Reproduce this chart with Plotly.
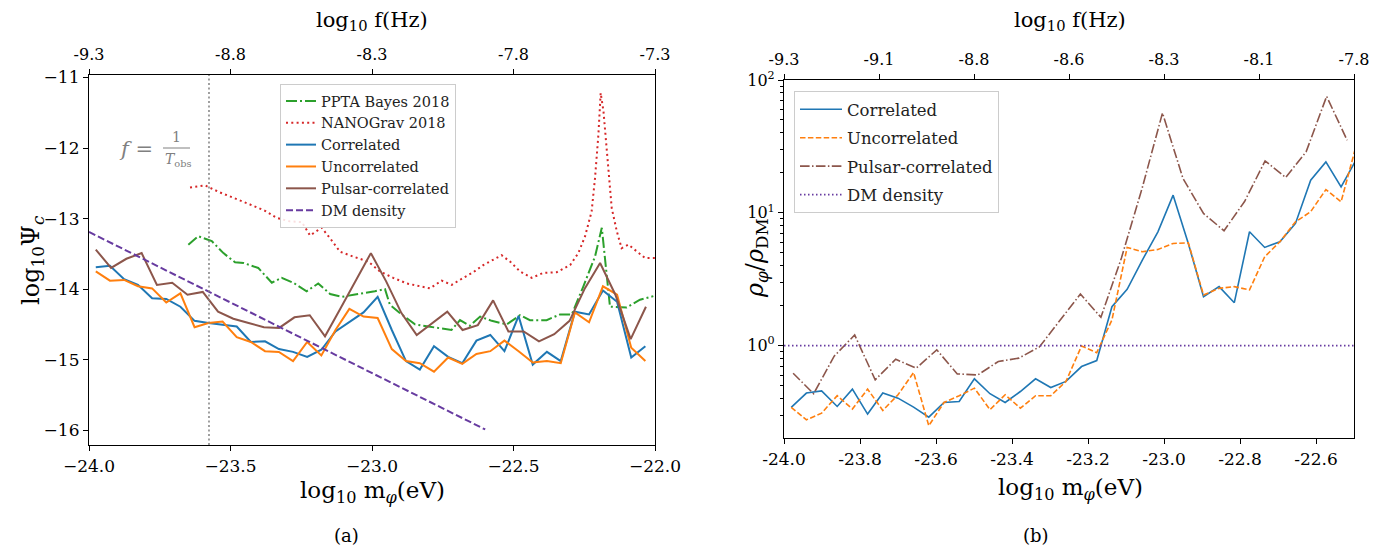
import plotly.graph_objects as go

# ---------------- data: panel (a) ----------------
m_corr = [-23.976, -23.926, -23.876, -23.827, -23.777, -23.727, -23.677, -23.627, -23.578, -23.528,
          -23.478, -23.428, -23.378, -23.329, -23.279, -23.229, -23.179, -23.129, -23.080, -23.030,
          -22.980, -22.930, -22.880, -22.831, -22.781, -22.731, -22.681, -22.631, -22.582, -22.532,
          -22.482, -22.432, -22.382, -22.333, -22.283, -22.233, -22.184, -22.134, -22.084, -22.034]
psi_corr = [-13.69, -13.67, -13.86, -13.94, -14.13, -14.14, -14.25, -14.45, -14.48, -14.51,
            -14.53, -14.75, -14.74, -14.85, -14.89, -14.96, -14.86, -14.60, -14.47, -14.33,
            -14.11, -14.58, -15.02, -15.14, -14.81, -14.96, -15.05, -14.73, -14.65, -14.88,
            -14.38, -15.07, -14.89, -15.02, -14.32, -14.36, -14.02, -14.18, -14.97, -14.81]
psi_uncorr = [-13.75, -13.88, -13.87, -13.96, -13.99, -14.19, -14.06, -14.54, -14.48, -14.46,
              -14.68, -14.75, -14.88, -14.89, -15.02, -14.75, -14.94, -14.58, -14.28, -14.39,
              -14.41, -14.85, -15.02, -15.05, -15.17, -14.97, -15.06, -14.92, -14.88, -14.73,
              -14.88, -15.04, -15.02, -15.05, -14.33, -14.47, -13.96, -14.08, -14.83, -15.02]

m_pulsar = [-23.976, -23.922, -23.868, -23.814, -23.760, -23.706, -23.652, -23.598, -23.544, -23.490,
            -23.436, -23.382, -23.328, -23.274, -23.220, -23.166, -23.112, -23.058, -23.004, -22.950,
            -22.896, -22.842, -22.788, -22.734, -22.680, -22.626, -22.572, -22.518, -22.464, -22.410,
            -22.356, -22.302, -22.248, -22.194, -22.140, -22.086, -22.032]
psi_pulsar = [-13.44, -13.70, -13.57, -13.49, -13.94, -13.91, -14.08, -14.04, -14.32, -14.42,
              -14.48, -14.54, -14.55, -14.40, -14.37, -14.67, -14.28, -13.88, -13.49, -13.89,
              -14.34, -14.65, -14.48, -14.32, -14.58, -14.51, -14.16, -14.60, -14.60, -14.74,
              -14.64, -14.45, -13.99, -13.63, -14.08, -14.71, -14.25]

m_ppta = [-23.649, -23.614, -23.566, -23.525, -23.484, -23.454, -23.402, -23.354, -23.319, -23.278,
          -23.231, -23.190, -23.148, -23.107, -23.065, -23.031, -22.990, -22.954, -22.937, -22.895,
          -22.848, -22.801, -22.754, -22.719, -22.689, -22.654, -22.618, -22.577, -22.524, -22.477,
          -22.442, -22.383, -22.336, -22.294, -22.253, -22.212, -22.188, -22.159, -22.100, -22.053,
          -22.006]
psi_ppta = [-13.37, -13.25, -13.32, -13.49, -13.62, -13.63, -13.70, -13.91, -13.84, -13.91,
            -14.03, -13.92, -14.07, -14.11, -14.08, -14.06, -14.03, -14.00, -14.22, -14.36,
            -14.50, -14.53, -14.56, -14.58, -14.44, -14.52, -14.39, -14.45, -14.50, -14.37,
            -14.44, -14.44, -14.36, -14.36, -13.96, -13.54, -13.13, -14.25, -14.26, -14.15,
            -14.10]

m_nano = [-23.643, -23.590, -23.537, -23.484, -23.431, -23.378, -23.337, -23.290, -23.248, -23.219,
          -23.178, -23.148, -23.113, -23.066, -23.013, -22.972, -22.925, -22.877, -22.830, -22.795,
          -22.754, -22.718, -22.677, -22.642, -22.607, -22.571, -22.542, -22.512, -22.477, -22.436,
          -22.394, -22.347, -22.300, -22.271, -22.247, -22.224, -22.212, -22.200, -22.192, -22.182,
          -22.171, -22.153, -22.135, -22.118, -22.094, -22.065, -22.035, -22.000]
psi_nano = [-12.56, -12.53, -12.63, -12.71, -12.80, -12.89, -12.99, -13.04, -13.05, -13.24,
            -13.13, -13.28, -13.47, -13.54, -13.61, -13.75, -13.84, -13.92, -13.96, -13.99,
            -13.88, -13.94, -13.84, -13.76, -13.66, -13.58, -13.52, -13.61, -13.75, -13.84,
            -13.77, -13.76, -13.66, -13.49, -13.25, -12.90, -12.43, -11.81, -11.22, -11.48,
            -12.05, -12.85, -13.18, -13.42, -13.37, -13.47, -13.56, -13.56]

m_dm = [-24.0, -22.6]
psi_dm = [-13.19, -15.99]

m_Tobs = -23.576

a_xticks = [-24.0, -23.5, -23.0, -22.5, -22.0]
a_xticklabels = ["−24.0", "−23.5", "−23.0", "−22.5", "−22.0"]
a_yticks = [-16, -15, -14, -13, -12, -11]
a_yticklabels = ["−16", "−15", "−14", "−13", "−12", "−11"]
a_fticks = [-9.3, -8.8, -8.3, -7.8, -7.3]
a_fticklabels = ["-9.3", "-8.8", "-8.3", "-7.8", "-7.3"]

# ---------------- data: panel (b) ----------------
m_r = [-23.981, -23.941, -23.901, -23.860, -23.820, -23.780, -23.740, -23.700, -23.659, -23.619,
       -23.579, -23.539, -23.499, -23.458, -23.418, -23.378, -23.338, -23.298, -23.258, -23.217,
       -23.177, -23.137, -23.097, -23.057, -23.016, -22.976, -22.936, -22.896, -22.855, -22.815,
       -22.775, -22.735, -22.695, -22.654, -22.614, -22.574, -22.534, -22.494]
rho_corr = [0.342, 0.439, 0.456, 0.348, 0.470, 0.305, 0.439, 0.402, 0.344, 0.289,
            0.373, 0.379, 0.562, 0.434, 0.373, 0.451, 0.562, 0.483, 0.537, 0.695,
            0.771, 1.963, 2.655, 4.406, 7.194, 13.58, 5.875, 2.333, 2.780, 2.104,
            7.194, 5.483, 6.053, 8.318, 17.62, 24.15, 15.67, 25.18]
rho_uncorr = [0.342, 0.276, 0.310, 0.419, 0.333, 0.470, 0.325, 0.426, 0.627, 0.249,
              0.373, 0.419, 0.478, 0.329, 0.426, 0.338, 0.419, 0.419, 0.537, 0.993,
              0.885, 1.560, 5.483, 5.093, 5.297, 5.875, 5.943, 2.404, 2.698, 2.780,
              2.624, 4.667, 6.053, 8.551, 10.19, 14.96, 12.11, 32.28]
m_r_pulsar = [-23.976, -23.922, -23.868, -23.814, -23.760, -23.706, -23.652, -23.598, -23.544, -23.490,
              -23.436, -23.382, -23.328, -23.274, -23.220, -23.166, -23.112, -23.058, -23.004, -22.950,
              -22.896, -22.842, -22.788, -22.734, -22.680, -22.626, -22.572, -22.518]
rho_pulsar = [0.619, 0.434, 0.832, 1.202, 0.552, 0.789, 0.676, 0.929, 0.612, 0.601,
              0.759, 0.804, 0.977, 1.549, 2.443, 1.633, 4.571, 15.14, 56.49, 18.11,
              9.886, 7.328, 12.16, 24.60, 18.45, 28.77, 75.34, 35.16]
m_r_dm = [-24.0, -22.5]
rho_dm = [1.0, 1.0]

b_xticks = [-24.0, -23.8, -23.6, -23.4, -23.2, -23.0, -22.8, -22.6]
b_xticklabels = ["-24.0", "-23.8", "-23.6", "-23.4", "-23.2", "-23.0", "-22.8", "-22.6"]
b_yticks = [1, 10, 100]
b_yticklabels = ["10<sup>0</sup>", "10<sup>1</sup>", "10<sup>2</sup>"]
b_fticks = [-9.3, -9.05, -8.8, -8.55, -8.3, -8.05, -7.8]
b_fticklabels = ["-9.3", "-9.1", "-8.8", "-8.6", "-8.3", "-8.1", "-7.8"]

# ---------------- figure ----------------
W, H = 1387, 546
OFF = 8  # default page body margin
SERIF = "DejaVu Serif, Liberation Serif, serif"


def fx(p):
    return (p - OFF) / W


def fy(p):
    return 1 - (p - OFF) / H


fig = go.Figure()

C_BLUE, C_ORANGE, C_GREEN = "#1f77b4", "#ff7f0e", "#2ca02c"
C_RED, C_BROWN, C_PURPLE = "#d62728", "#8c564b", "#673ba0"

left = dict(xaxis="x", yaxis="y", legend="legend", mode="lines", hoverinfo="skip")
fig.add_trace(go.Scatter(x=m_ppta, y=psi_ppta, name="PPTA Bayes 2018", legendgroup="a1",
                         line=dict(color=C_GREEN, width=2, dash="11px,3px,2px,3px"), **left))
fig.add_trace(go.Scatter(x=m_nano, y=psi_nano, name="NANOGrav 2018", legendgroup="a2",
                         line=dict(color=C_RED, width=2, dash="2px,3.3px"), **left))
fig.add_trace(go.Scatter(x=m_corr, y=psi_corr, name="Correlated", legendgroup="a3",
                         line=dict(color=C_BLUE, width=2), **left))
fig.add_trace(go.Scatter(x=m_corr, y=psi_uncorr, name="Uncorrelated", legendgroup="a4",
                         line=dict(color=C_ORANGE, width=2), **left))
fig.add_trace(go.Scatter(x=m_pulsar, y=psi_pulsar, name="Pulsar-correlated", legendgroup="a5",
                         line=dict(color=C_BROWN, width=2), **left))
fig.add_trace(go.Scatter(x=m_dm, y=psi_dm, name="DM density", legendgroup="a6",
                         line=dict(color=C_PURPLE, width=2, dash="7px,3px"), **left))

right = dict(xaxis="x2", yaxis="y2", legend="legend2", mode="lines", hoverinfo="skip")
fig.add_trace(go.Scatter(x=m_r, y=rho_corr, name="Correlated", legendgroup="b1",
                         line=dict(color=C_BLUE, width=1.6), **right))
fig.add_trace(go.Scatter(x=m_r, y=rho_uncorr, name="Uncorrelated", legendgroup="b2",
                         line=dict(color=C_ORANGE, width=1.6, dash="5.5px,2.4px"), **right))
fig.add_trace(go.Scatter(x=m_r_pulsar, y=rho_pulsar, name="Pulsar-correlated", legendgroup="b3",
                         line=dict(color=C_BROWN, width=1.6, dash="9.6px,2.4px,1.5px,2.4px"), **right))
fig.add_trace(go.Scatter(x=m_r_dm, y=rho_dm, name="DM density", legendgroup="b4",
                         line=dict(color=C_PURPLE, width=1.6, dash="1.5px,2.5px"), **right))

# invisible traces to activate the top (frequency) axes
fig.add_trace(go.Scatter(x=[a_fticks[0], a_fticks[-1]], y=[None, None], xaxis="x3", yaxis="y",
                         showlegend=False, hoverinfo="skip", mode="lines"))
fig.add_trace(go.Scatter(x=[b_fticks[0], b_fticks[-1]], y=[None, None], xaxis="x4", yaxis="y2",
                         showlegend=False, hoverinfo="skip", mode="lines"))

fig.add_shape(type="line", x0=m_Tobs, x1=m_Tobs, y0=0, y1=1, xref="x", yref="y domain",
              line=dict(color="#808080", width=1.5, dash="2px,2.5px"))

common = dict(showgrid=False, zeroline=False, showline=True, linecolor="black", linewidth=1.2,
              ticks="outside", ticklen=5, tickwidth=1.2, tickcolor="black", automargin=False,
              tickfont=dict(family=SERIF, size=17, color="black"))
top = dict(common)
top["tickfont"] = dict(family=SERIF, size=16, color="black")
top["ticklabelstandoff"] = 3
ylog = dict(common)
ylog["tickfont"] = dict(family=SERIF, size=16, color="black")

fig.update_layout(
    width=W, height=H,
    margin=dict(l=0, r=0, t=0, b=0),
    paper_bgcolor="white", plot_bgcolor="white",
    font=dict(family=SERIF, color="black"),
    xaxis=dict(domain=[fx(89), fx(655)], anchor="y", range=[-24, -22], tickmode="array",
               tickvals=a_xticks, ticktext=a_xticklabels, mirror=True, **common),
    yaxis=dict(domain=[fy(445), fy(75)], anchor="x", range=[-16.21, -10.965], tickmode="array",
               tickvals=a_yticks, ticktext=a_yticklabels, mirror=True, **common),
    xaxis3=dict(overlaying="x", side="top", anchor="y", range=[-9.3, -7.3], tickmode="array",
                tickvals=a_fticks, ticktext=a_fticklabels, **top),
    xaxis2=dict(domain=[fx(784), fx(1354)], anchor="y2", range=[-24, -22.5], tickmode="array",
                tickvals=b_xticks, ticktext=b_xticklabels, mirror=True, **common),
    yaxis2=dict(domain=[fy(438), fy(80)], anchor="x2", type="log", range=[-0.696, 2.0],
                tickmode="array", tickvals=b_yticks, ticktext=b_yticklabels, mirror=True,
                minor=dict(ticks="outside", ticklen=2.5, tickwidth=0.8, tickcolor="black",
                           tickvals=[0.2, 0.3, 0.4, 0.5, 0.6, 0.7, 0.8, 0.9,
                                     2, 3, 4, 5, 6, 7, 8, 9, 20, 30, 40, 50, 60, 70, 80, 90],
                           showgrid=False),
                **ylog),
    xaxis4=dict(overlaying="x2", side="top", anchor="y2", range=[-9.3, -7.8], tickmode="array",
                tickvals=b_fticks, ticktext=b_fticklabels, **top),
    legend=dict(x=fx(280), y=fy(84), xanchor="left", yanchor="top",
                bgcolor="rgba(255,255,255,0.85)", bordercolor="#cccccc", borderwidth=1,
                font=dict(family=SERIF, size=14.5, color="#222"), tracegroupgap=0, itemwidth=30),
    legend2=dict(x=fx(794), y=fy(91), xanchor="left", yanchor="top",
                 bgcolor="rgba(255,255,255,0.85)", bordercolor="#cccccc", borderwidth=1,
                 font=dict(family=SERIF, size=16.5, color="#222"), tracegroupgap=4, itemwidth=42),
)

ann = []


def A(text, x, y, size, angle=0, color="black"):
    ann.append(dict(text=text, x=fx(x), y=fy(y), xref="paper", yref="paper", showarrow=False,
                    xanchor="center", yanchor="middle", textangle=angle,
                    font=dict(family=SERIF, size=size, color=color)))


A("log<sub>10</sub> f(Hz)", 372, 21, 21)
A("log<sub>10</sub> f(Hz)", 1070, 21, 21)
A("log<sub>10</sub> m<sub><i>φ</i></sub>(eV)", 372, 492, 23)
A("log<sub>10</sub> m<sub><i>φ</i></sub>(eV)", 1070, 489, 23)
A("log<sub>10</sub>Ψ<sub><i>c</i></sub>", 32, 260, 24, angle=-90)
A("<i>ρ</i><sub><i>φ</i></sub>/<i>ρ</i><sub>DM</sub>", 757, 258, 24, angle=-90)
A("(a)", 346, 535, 18)
A("(b)", 1036, 535, 18)
A("<i>f</i> =", 136, 149, 21, color="#808080")
A("1", 176, 137, 14, color="#808080")
A("<i>T</i><sub>obs</sub>", 178, 160, 14, color="#808080")
fig.update_layout(annotations=ann)
fig.add_shape(type="line", xref="paper", yref="paper", x0=fx(163), x1=fx(190), y0=fy(148), y1=fy(148),
              line=dict(color="#808080", width=1))

fig.write_html("out.html")
